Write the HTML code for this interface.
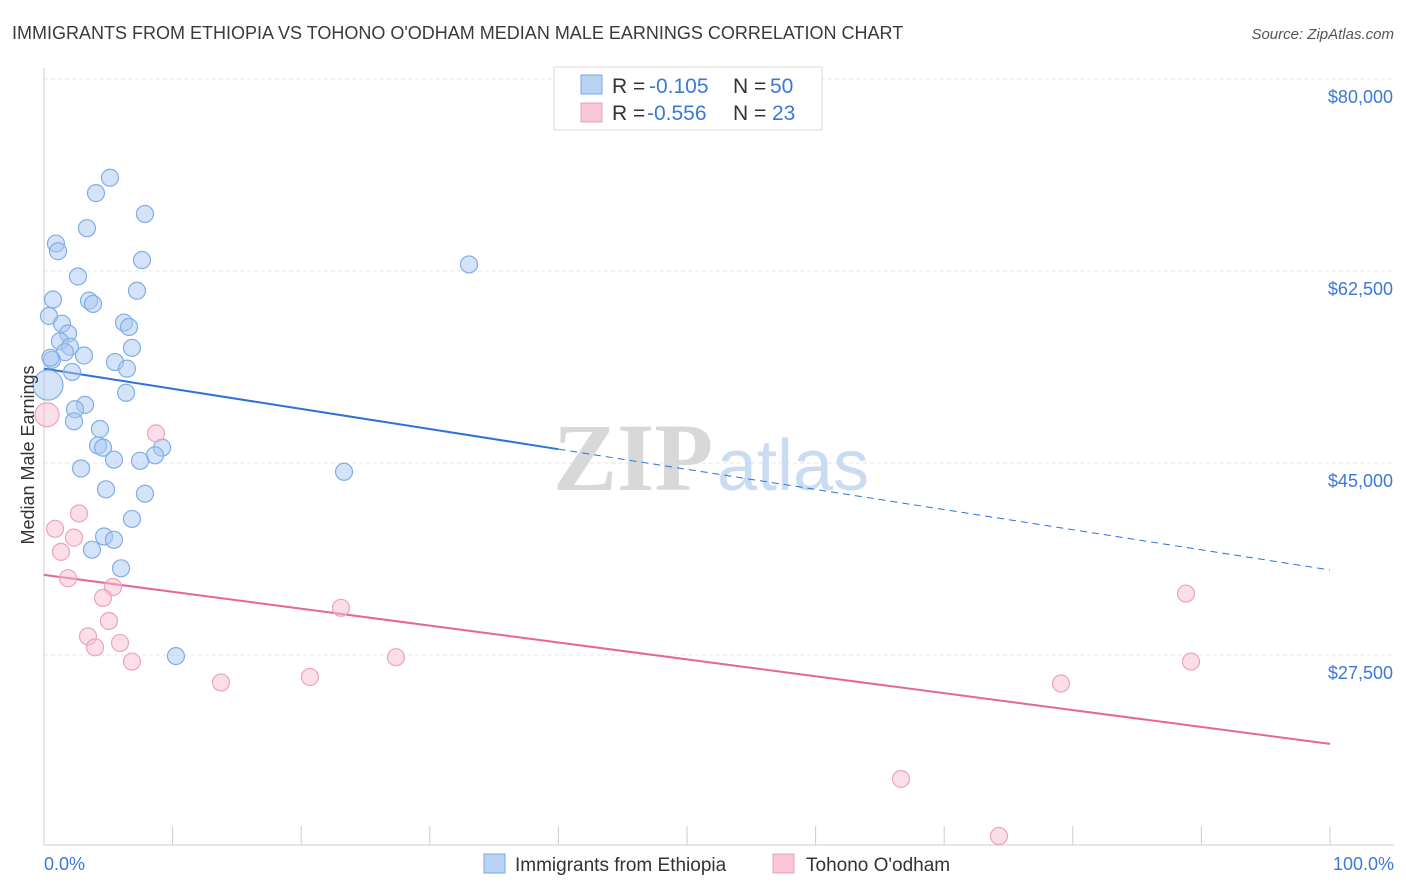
<!DOCTYPE html>
<html><head><meta charset="utf-8">
<style>
body{margin:0;background:#fff;font-family:"Liberation Sans",sans-serif;}
svg{display:block}
</style></head>
<body>
<svg id="chart" width="1406" height="892" viewBox="0 0 1406 892" xmlns="http://www.w3.org/2000/svg">
<text x="12" y="39" font-size="18" fill="#3a3a3a">IMMIGRANTS FROM ETHIOPIA VS TOHONO O'ODHAM MEDIAN MALE EARNINGS CORRELATION CHART</text>
<text x="1394" y="39" font-size="15" fill="#555" text-anchor="end" font-style="italic">Source: ZipAtlas.com</text>
<g id="grid"></g>
<g>
<text x="553" y="490" font-size="96" fill="#d8d8d8" font-family="Liberation Serif,serif" font-weight="bold">ZIP</text>
<text x="717" y="490" font-size="72" fill="#c9dcf2">atlas</text>
</g>
<g id="axes"></g>
<g id="trend"></g>
<g id="pts"></g>
<text transform="translate(34,455) rotate(-90)" font-size="18" fill="#333" text-anchor="middle">Median Male Earnings</text>
<text x="44" y="870" font-size="18" fill="#3b78d8">0.0%</text>
<text x="1394" y="870" font-size="18" fill="#3b78d8" text-anchor="end">100.0%</text>
<g>
<rect x="554" y="67" width="268" height="63" fill="#fff" stroke="#ddd"/>
<rect x="581" y="75" width="21" height="19" fill="#b9d3f5" stroke="#7aa7e0"/>
<rect x="581" y="103" width="21" height="19" fill="#f9c6d4" stroke="#eaa0b8"/>
<text x="612" y="93" font-size="21" fill="#333">R =</text>
<text x="649" y="93" font-size="21" fill="#3b78d8">-0.105</text>
<text x="733" y="93" font-size="21" fill="#333">N =</text>
<text x="770" y="93" font-size="21" fill="#3b78d8">50</text>
<text x="612" y="120" font-size="21" fill="#333">R =</text>
<text x="647" y="120" font-size="21" fill="#3b78d8">-0.556</text>
<text x="733" y="120" font-size="21" fill="#333">N =</text>
<text x="772" y="120" font-size="21" fill="#3b78d8">23</text>
</g>
<g>
<rect x="484" y="854" width="21" height="19" fill="#b9d3f5" stroke="#7aa7e0"/>
<text x="515" y="871" font-size="19" fill="#333">Immigrants from Ethiopia</text>
<rect x="773" y="854" width="21" height="19" fill="#f9c6d4" stroke="#eaa0b8"/>
<text x="806" y="871" font-size="19" fill="#333">Tohono O'odham</text>
</g>
</svg>
<script>
const yTicks=[80000,62500,45000,27500];
const yTickLabels=["$80,000","$62,500","$45,000","$27,500"];
const xTicks=[0,10,20,30,40,50,60,70,80,90,100];
const blueX=[5.13,4.04,7.85,3.34,0.93,1.09,7.62,2.64,7.23,0.70,3.50,3.81,0.39,1.40,6.22,6.61,1.87,1.24,2.02,6.84,1.63,3.11,0.62,5.52,2.18,6.45,0.31,6.38,3.19,2.41,2.33,4.35,4.20,4.59,9.18,8.63,5.44,7.47,2.88,23.33,4.82,7.85,6.84,4.67,5.44,3.73,5.99,10.26,33.05,0.5];
const blueY=[71.0,69.6,67.7,66.4,65.0,64.3,63.5,62.0,60.7,59.9,59.8,59.5,58.4,57.7,57.8,57.4,56.8,56.1,55.6,55.5,55.1,54.8,54.4,54.2,53.3,53.6,52.1,51.4,50.3,49.9,48.8,48.1,46.6,46.4,46.4,45.7,45.3,45.2,44.5,44.2,42.6,42.2,39.9,38.3,38.0,37.1,35.4,27.4,63.1,54.6];
const blueR=[8.5,8.5,8.5,8.5,8.5,8.5,8.5,8.5,8.5,8.5,8.5,8.5,8.5,8.5,8.5,8.5,8.5,8.5,8.5,8.5,8.5,8.5,8.5,8.5,8.5,8.5,15,8.5,8.5,8.5,8.5,8.5,8.5,8.5,8.5,8.5,8.5,8.5,8.5,8.5,8.5,8.5,8.5,8.5,8.5,8.5,8.5,8.5,8.5,8.5];
const pinkX=[0.23,0.86,2.72,1.32,2.33,1.87,5.37,4.59,5.05,3.42,3.97,5.91,6.84,8.71,13.76,20.68,23.09,27.37,66.64,74.26,79.08,88.80,89.19];
const pinkY=[49.4,39.0,40.4,36.9,38.2,34.5,33.7,32.7,30.6,29.2,28.2,28.6,26.9,47.7,25.0,25.5,31.8,27.3,16.2,11.0,24.9,33.1,26.9];
const pinkR=[12,8.5,8.5,8.5,8.5,8.5,8.5,8.5,8.5,8.5,8.5,8.5,8.5,8.5,8.5,8.5,8.5,8.5,8.5,8.5,8.5,8.5,8.5];
const blueTrend=[53.6,35.25];
const blueSolidEnd=40;
const pinkTrend=[34.8,19.4];
const NS="http://www.w3.org/2000/svg";
const X=p=>44+p*12.86;
const Y=v=>79+(80000-v)/17500*192;
const Yk=k=>Y(k*1000);
function mk(tag,attrs,parent){const e=document.createElementNS(NS,tag);for(const k in attrs)e.setAttribute(k,attrs[k]);document.getElementById(parent).appendChild(e);return e;}
yTicks.forEach((t,i)=>{
 const l=mk('line',{x1:44,x2:1394,y1:Y(t),y2:Y(t),stroke:'#e6e6e6','stroke-dasharray':'4,3'},'grid');
 
 
 const tx=mk('text',{x:1393,y:Y(t)+24,'font-size':18,fill:'#3b78d8','text-anchor':'end'},'grid');
 tx.textContent=yTickLabels[i];
 
 
});
const ax=mk('line',{x1:44,x2:44,y1:68,y2:845,stroke:'#ccc'},'axes');


const bx=mk('line',{x1:44,x2:1394,y1:845,y2:845,stroke:'#ccc'},'axes');


xTicks.forEach(t=>{
 const l=mk('line',{x1:X(t),x2:X(t),y1:826,y2:845,stroke:'#ccc'},'axes');
 
 
});
function trend(tr,solidEnd,color,name){
 const yAt=p=>tr[0]+(tr[1]-tr[0])*p/100;
 const a=mk('line',{x1:X(0),y1:Yk(tr[0]),x2:X(solidEnd),y2:Yk(yAt(solidEnd)),stroke:color,'stroke-width':2},'trend');
 
 
 if(solidEnd<100){
  const b=mk('line',{x1:X(solidEnd),y1:Yk(yAt(solidEnd)),x2:X(100),y2:Yk(tr[1]),stroke:color,'stroke-width':1,'stroke-dasharray':'7,5'},'trend');
  
  
 }
}
trend(blueTrend,blueSolidEnd,'#2f72d6','ethiopia-trend-line');
trend(pinkTrend,100,'#e4679a','tohono-trend-line');
blueX.forEach((x,i)=>{
 const c=mk('circle',{cx:X(x),cy:Yk(blueY[i]),r:blueR[i],fill:'rgba(170,200,242,0.5)',stroke:'#80aee6','stroke-width':1.2},'pts');
 
 
});
pinkX.forEach((x,i)=>{
 const c=mk('circle',{cx:X(x),cy:Yk(pinkY[i]),r:pinkR[i],fill:'rgba(248,190,208,0.5)',stroke:'#eca4bc','stroke-width':1.2},'pts');
 
 
});
</script>
</body></html>
